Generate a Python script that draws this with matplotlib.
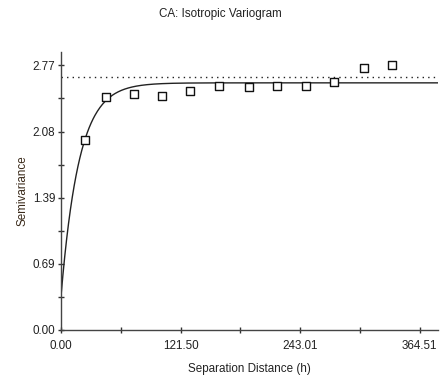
import numpy as np
import matplotlib.pyplot as plt
from matplotlib.ticker import FixedLocator, NullFormatter

plt.rcParams['font.family'] = ['Liberation Sans', 'DejaVu Sans']

# experimental variogram points
lag = [24.5, 45.3, 73.8, 102.8, 131.0, 161.0, 190.9, 219.5, 249.1, 277.7, 307.6, 335.9]
semivar = [1.99, 2.44, 2.466, 2.448, 2.50, 2.552, 2.545, 2.552, 2.552, 2.597, 2.738, 2.772]

# fitted exponential model
nugget = 0.35
sill = 2.587
model_range = 55.0
sample_var = 2.65

x_ticks = [0.00, 121.50, 243.01, 364.51]
y_ticks = [0.00, 0.69, 1.39, 2.08, 2.77]

fig = plt.figure(figsize=(4.4, 3.79), dpi=100)
ax = fig.add_axes([0.1386, 0.1293, 0.856, 0.7335])

h = np.linspace(0, 382.7, 600)
gamma = nugget + (sill - nugget) * (1 - np.exp(-3 * h / model_range))
ax.plot(h, gamma, color='#222222', lw=1.0)
ax.axhline(sample_var, color='#222222', lw=1.0, ls=(0, (1, 3)))
ax.scatter(lag, semivar, marker='s', s=40, facecolors='white',
           edgecolors='#111111', linewidths=1.0, zorder=3)

ax.set_xlim(0, 382.7)
ax.set_ylim(0, 2.91)
ax.set_xticks(x_ticks)
ax.set_xticklabels([f"{v:.2f}" for v in x_ticks])
ax.set_yticks([0, 0.6925, 1.385, 2.0775, 2.77])
ax.set_yticklabels([f"{v:.2f}" for v in y_ticks])
ax.xaxis.set_minor_locator(FixedLocator([60.75, 182.25, 303.76]))
ax.yaxis.set_minor_locator(FixedLocator([0.34625, 1.03875, 1.73125, 2.42375]))
ax.xaxis.set_minor_formatter(NullFormatter())
ax.yaxis.set_minor_formatter(NullFormatter())

for s in ['top', 'right']:
    ax.spines[s].set_visible(False)
for s in ['left', 'bottom']:
    ax.spines[s].set_color('#444444')
    ax.spines[s].set_linewidth(1.0)
ax.tick_params(which='both', direction='inout', length=4, width=1,
               color='#333333', labelsize=8.4, labelcolor='#222222')
ax.tick_params(axis='x', pad=5)
ax.tick_params(axis='y', pad=2)

ax.set_xlabel("Separation Distance (h)", fontsize=8.4, color='#222222', labelpad=8)
ax.set_ylabel("Semivariance", fontsize=8.4, color='#3a2a1a', labelpad=3)
fig.suptitle("CA: Isotropic Variogram", fontsize=8.4, color='#222222', y=0.98)

fig.savefig("out.png", dpi=100)
